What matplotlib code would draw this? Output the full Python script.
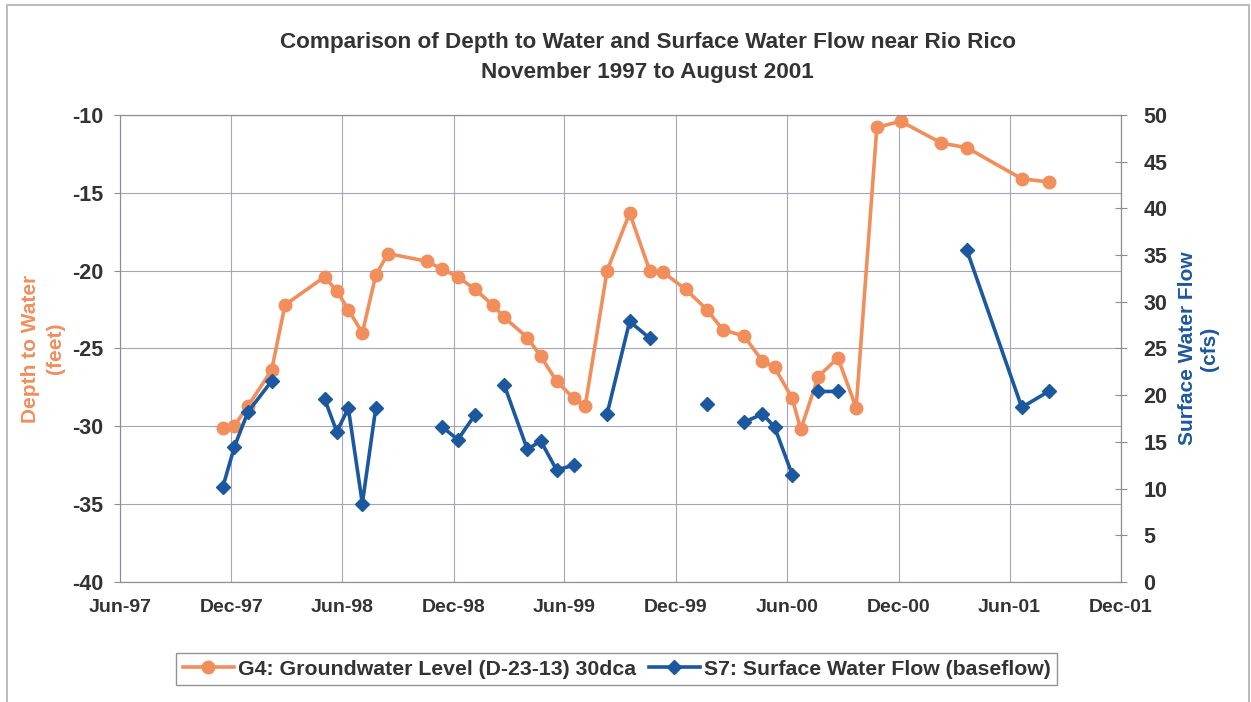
import matplotlib
matplotlib.use("Agg")
import matplotlib.pyplot as plt
import matplotlib.dates as mdates
from matplotlib.patches import Rectangle
import numpy as np
import pandas as pd

plt.rcParams['font.family'] = ['Liberation Sans', 'DejaVu Sans']
plt.rcParams['axes.unicode_minus'] = False

# sampling dates shared by both series
dates = pd.to_datetime([
    "1997-11-17", "1997-12-06", "1997-12-28", "1998-02-05", "1998-02-27",
    "1998-05-03", "1998-05-23", "1998-06-11", "1998-07-04", "1998-07-26",
    "1998-08-15", "1998-10-18", "1998-11-12", "1998-12-08", "1999-01-05",
    "1999-02-03", "1999-02-22", "1999-04-01", "1999-04-23", "1999-05-19",
    "1999-06-16", "1999-07-05", "1999-08-10", "1999-09-16", "1999-10-19",
    "1999-11-10", "1999-12-17", "2000-01-21", "2000-02-16", "2000-03-22",
    "2000-04-21", "2000-05-11", "2000-06-09", "2000-06-23", "2000-07-22",
    "2000-08-23", "2000-09-22", "2000-10-26", "2000-12-04", "2001-02-09",
    "2001-03-23", "2001-06-21", "2001-08-04",
])

# G4 groundwater level (feet)
depth = [
    -30.1, -29.95, -28.7, -26.4, -22.2,
    -20.4, -21.3, -22.5, -24.0, -20.3,
    -18.9, -19.4, -19.9, -20.4, -21.2,
    -22.2, -23.0, -24.3, -25.5, -27.1,
    -28.2, -28.7, -20.0, -16.3, -20.0,
    -20.1, -21.2, -22.5, -23.8, -24.2,
    -25.8, -26.2, -28.2, -30.2, -26.8,
    -25.6, -28.8, -10.8, -10.4, -11.8,
    -12.1, -14.1, -14.3,
]

nan = np.nan
# S7 surface water flow (cfs), gaps where not measured
flow = [
    10.2, 14.5, 18.2, 21.5, nan,
    19.6, 16.1, 18.6, 8.4, 18.6,
    nan, nan, 16.6, 15.25, 17.9,
    nan, 21.1, 14.2, 15.1, 12.0,
    12.5, nan, 18.0, 27.9, 26.1,
    nan, nan, 19.1, nan, 17.1,
    18.0, 16.6, 11.5, nan, 20.4,
    20.4, nan, nan, nan, nan,
    35.5, 18.7, 20.4,
]

orange = '#F28E5C'
blue = '#1B58A0'
txt = '#333333'
grid_c = '#A4A4BC'

fig = plt.figure(figsize=(12.51, 7.02), dpi=100)
ax = fig.add_axes([120 / 1251, 1 - 582 / 702, (1121 - 120) / 1251, (582 - 115) / 702])
ax2 = ax.twinx()

l1, = ax.plot(dates, depth, color=orange, lw=2.6, marker='o', ms=9,
              label='G4: Groundwater Level (D-23-13) 30dca')
l2, = ax2.plot(dates, flow, color=blue, lw=2.6, marker='D', ms=7,
               label='S7: Surface Water Flow (baseflow)')

ax.set_xlim(pd.Timestamp("1997-06-01"), pd.Timestamp("2001-12-01"))
ax.set_ylim(-40, -10)
ax2.set_ylim(0, 50)
ax.set_yticks(np.arange(-40, -9, 5))
ax2.set_yticks(np.arange(0, 51, 5))

ax.xaxis.set_major_locator(mdates.MonthLocator(bymonth=[6, 12]))
ax.xaxis.set_major_formatter(mdates.DateFormatter('%b-%y'))

ax.grid(True, color=grid_c, lw=0.8)
ax.set_axisbelow(True)

for a in (ax, ax2):
    for s in a.spines.values():
        s.set_color('#8C8C9C')
        s.set_linewidth(0.8)

ax.tick_params(axis='y', labelsize=15.5, colors='#8C8C9C', labelcolor=txt, length=4, pad=8)
ax.tick_params(axis='x', labelsize=14, colors='#8C8C9C', labelcolor=txt, length=0, pad=12)
ax2.tick_params(axis='y', labelsize=15.5, colors='#8C8C9C', labelcolor=txt, length=8,
                direction='inout', pad=12)
for lab in ax.get_xticklabels() + ax.get_yticklabels() + ax2.get_yticklabels():
    lab.set_fontweight('bold')

ax.set_ylabel('Depth to Water\n(feet)', color=orange, fontsize=15, fontweight='bold',
              labelpad=5, linespacing=1.4)
ax2.set_ylabel('Surface Water Flow\n(cfs)', color=blue, fontsize=15, fontweight='bold',
               labelpad=8, rotation=90, linespacing=1.2)

fig.text(0.5176, 0.939, 'Comparison of Depth to Water and Surface Water Flow near Rio Rico',
         ha='center', va='center', fontsize=16.2, fontweight='bold', color=txt)
fig.text(0.5176, 0.897, 'November 1997 to August 2001',
         ha='center', va='center', fontsize=16.2, fontweight='bold', color=txt)

leg = fig.legend(handles=[l1, l2], loc='center', bbox_to_anchor=(0.493, 0.047), ncol=2,
                 frameon=True, fancybox=False, edgecolor='#777777', fontsize=15.3,
                 handlelength=2.4, columnspacing=0.6, handletextpad=0.2, borderpad=0.3)
leg.get_frame().set_linewidth(1.0)
for t in leg.get_texts():
    t.set_fontweight('bold')
    t.set_color(txt)

# chart area border
fig.patches.append(Rectangle((7 / 1251, -0.01), (1249 - 7) / 1251, 1.01 - 5 / 702,
                             transform=fig.transFigure, fill=False,
                             edgecolor='#B0B0B0', lw=1.2))

fig.savefig('out.png', dpi=100)
